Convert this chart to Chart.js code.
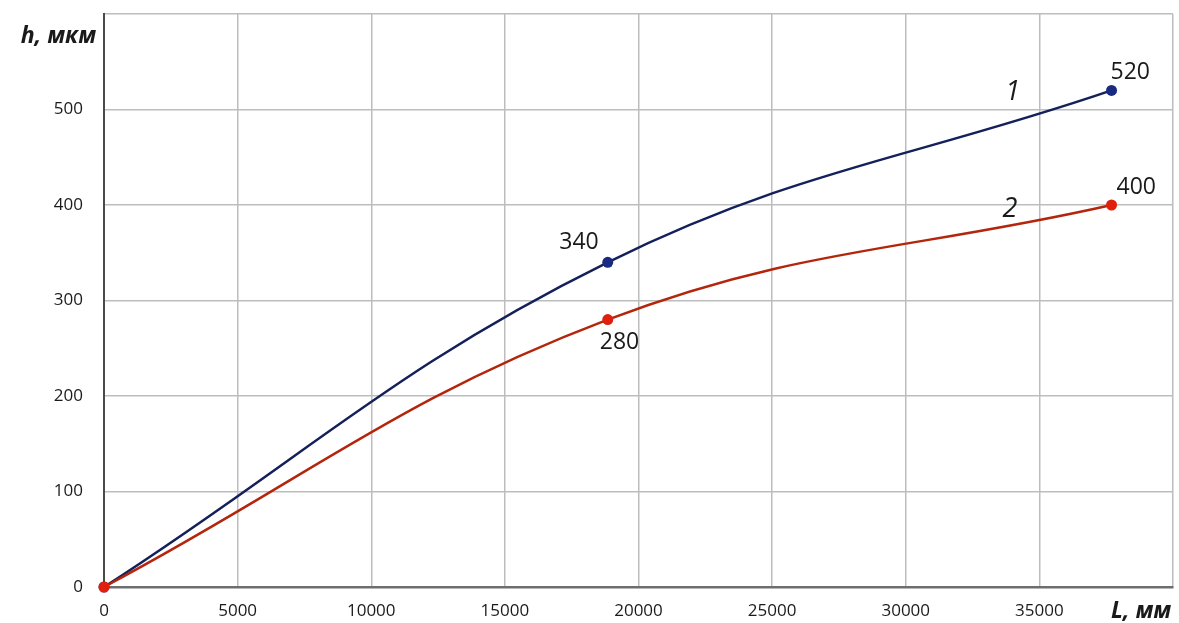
<!DOCTYPE html>
<html>
<head>
<meta charset="utf-8">
<script src="https://cdn.jsdelivr.net/npm/chart.js@4"></script>
<style>
  html, body { margin: 0; padding: 0; background: #fff; }
  #wrap { width: 1179px; height: 623px; }
</style>
</head>
<body>
<div id="wrap"><canvas id="chart"></canvas></div>
<script>
// values
const lengths = [0, 18850, 37700];          // L, мм
const curve1 = [0, 340, 520];               // h, мкм, curve 1
const curve2 = [0, 280, 400];               // h, мкм, curve 2
const xTicks = [0, 5000, 10000, 15000, 20000, 25000, 30000, 35000, 40000];
const yTicks = [0, 100, 200, 300, 400, 500, 600];

function toPoints(ys) {
    return lengths.map((x, i) => ({ x: x, y: ys[i] }));
}

// labels and axis titles drawn on top
const annotate = {
    id: 'annotate',
    afterDatasetsDraw(chart) {
        const ctx = chart.ctx;
        const xs = chart.scales.x, ys = chart.scales.y;
        const area = chart.chartArea;
        ctx.save();
        ctx.fillStyle = '#1a1a1a';
        ctx.font = '23px "Open Sans", sans-serif';
        ctx.textBaseline = 'middle';
        // values at points
        ctx.textAlign = 'left';
        ctx.fillText('520', xs.getPixelForValue(lengths[2]) - 1, ys.getPixelForValue(curve1[2]) - 18);
        ctx.fillText('400', xs.getPixelForValue(lengths[2]) + 5, ys.getPixelForValue(curve2[2]) - 18);
        ctx.fillText('280', xs.getPixelForValue(lengths[1]) - 8, ys.getPixelForValue(curve2[1]) + 23);
        ctx.textAlign = 'right';
        ctx.fillText('340', xs.getPixelForValue(lengths[1]) - 9, ys.getPixelForValue(curve1[1]) - 20);
        // curve numbers
        ctx.font = 'italic 27px "Open Sans", sans-serif';
        ctx.textAlign = 'center';
        ctx.fillText('1', xs.getPixelForValue(34000), ys.getPixelForValue(518));
        ctx.fillText('2', xs.getPixelForValue(33900), ys.getPixelForValue(395));
        // axis titles
        ctx.font = 'italic bold 23px "Open Sans", sans-serif';
        ctx.textAlign = 'right';
        ctx.fillText('h, мкм', area.left - 8, 36);
        ctx.fillText('L, мм', area.right - 2, 611);
        ctx.restore();
    }
};

const ctx = document.getElementById('chart').getContext('2d');
const chart = new Chart(ctx, {
    type: 'line',
    data: {
        datasets: [
            {
                label: '1',
                data: toPoints(curve1),
                borderColor: '#14205a',
                backgroundColor: '#14205a',
                borderWidth: 2.5,
                pointRadius: 5.5,
                pointBackgroundColor: '#1a2a80',
                pointBorderWidth: 0,
                tension: 0.4,
                clip: false,
                order: 1
            },
            {
                label: '2',
                data: toPoints(curve2),
                borderColor: '#b3260c',
                backgroundColor: '#b3260c',
                borderWidth: 2.5,
                pointRadius: 5.5,
                pointBackgroundColor: '#e0200c',
                pointBorderWidth: 0,
                tension: 0.4,
                clip: false,
                order: 0
            }
        ]
    },
    options: {
        responsive: true,
        maintainAspectRatio: false,
        animation: false,
        layout: { padding: { top: 14, right: 6, left: 0, bottom: 0 } },
        plugins: {
            legend: { display: false },
            tooltip: { enabled: false }
        },
        scales: {
            x: {
                type: 'linear',
                min: 0,
                max: 40000,
                afterBuildTicks: (s) => { s.ticks = xTicks.map(v => ({ value: v })); },
                afterFit: (s) => { s.height = 36; s.paddingLeft = 0; s.paddingRight = 0; },
                ticks: {
                    color: '#1a1a1a',
                    font: { family: '"Open Sans", sans-serif', size: 17 },
                    padding: 14,
                    maxRotation: 0,
                    callback: (v) => v === 40000 ? '' : String(v)
                },
                grid: { color: '#bdbdbd', lineWidth: 1.5, drawTicks: false },
                border: { color: '#6e6e6e', width: 2.5 }
            },
            y: {
                type: 'linear',
                min: 0,
                max: 600,
                afterBuildTicks: (s) => { s.ticks = yTicks.map(v => ({ value: v })); },
                afterFit: (s) => { s.width = 104; s.paddingTop = 0; s.paddingBottom = 0; },
                ticks: {
                    color: '#1a1a1a',
                    font: { family: '"Open Sans", sans-serif', size: 17 },
                    padding: 21,
                    callback: (v) => v === 600 ? '' : String(v)
                },
                grid: { color: '#bdbdbd', lineWidth: 1.5, drawTicks: false },
                border: { color: '#4a4a4a', width: 2 }
            }
        }
    },
    plugins: [annotate]
});
</script>
</body>
</html>
